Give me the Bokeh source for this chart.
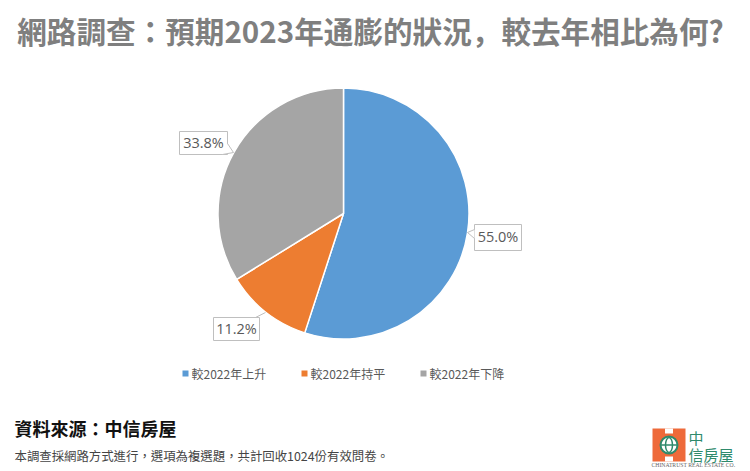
import math
from bokeh.plotting import figure
from bokeh.core.properties import value
from bokeh.embed import file_html
from bokeh.resources import INLINE

categories = ["較2022年上升", "較2022年持平", "較2022年下降"]
shares = [55.0, 11.2, 33.8]
colors = ["#5B9BD5", "#ED7D31", "#A5A5A5"]
label_texts = ["55.0%", "11.2%", "33.8%"]
title = "網路調查\uFF1A預期2023年通膨的狀況\uFF0C較去年相比為何?"
source = "資料來源\uFF1A中信房屋"
note = "本調查採網路方式進行\uFF0C選項為複選題\uFF0C共計回收1024份有效問卷。"

W, H = 750, 471
def Y(py):
    return H - py

p = figure(width=W, height=H, x_range=(0, W), y_range=(0, H),
           output_backend="svg", toolbar_location=None, min_border=0,
           x_axis_location=None, y_axis_location=None, outline_line_color=None)
p.grid.visible = False
p.background_fill_color = "white"

TC = value("Noto Sans CJK TC")
JP = value("Noto Sans CJK JP")
LAT = value("Open Sans")

def txt(x, y, s, size, color, font=TC, style="normal", align="left"):
    p.text([x], [Y(y)], text=[s], text_font=font, text_font_size=f"{size}px",
           text_color=color, text_font_style=style, text_align=align, text_baseline="middle")

txt(370, 30, title, 29.6, "#7F7F7F", JP, "bold", "center")

# pie
cx, cy, r = 343, 213, 125.5
total = sum(shares)
a = math.pi / 2
starts, ends = [], []
for v in shares:
    b = a - 2 * math.pi * v / total
    starts.append(b)
    ends.append(a)
    a = b
p.wedge(x=[cx] * 3, y=[Y(cy)] * 3, radius=r, start_angle=starts, end_angle=ends,
        fill_color=colors, line_color="white", line_width=1.5)

# callouts
boxes = [
    (474, 521, 224, 250, [(474, 229), (467, 232), (474, 238)]),
    (213, 259, 317, 340, None),
    (179, 227, 131, 154, [(227, 143), (233, 152), (222, 154)]),
]
for (x0, x1, y0, y1, ptr), s in zip(boxes, label_texts):
    p.quad(left=[x0], right=[x1], top=[Y(y0)], bottom=[Y(y1)], fill_color="white",
           line_color="#BFBFBF", line_width=1)
    if ptr:
        xs = [q[0] for q in ptr]
        ys = [Y(q[1]) for q in ptr]
        p.patch(xs, ys, fill_color="white", line_color=None)
        p.line(xs, ys, line_color="#BFBFBF", line_width=1)
    txt((x0 + x1) / 2, (y0 + y1) / 2 - 1, s, 14.5, "#595959", LAT, "normal", "center")
p.line([255, 265], [Y(317), Y(312)], line_color="#BFBFBF", line_width=1)

# legend
for c, col, sx in zip(categories, colors, [185, 304, 423]):
    p.quad(left=[sx - 3], right=[sx + 3], top=[Y(370)], bottom=[Y(376)], fill_color=col, line_color=None)
    txt(sx + 6, 373, c, 12, "#595959")

# footer
txt(14, 427, source, 18, "#111111", TC, "bold")
txt(14, 455, note, 12.4, "#444444")

# logo
org = "#EE6A3A"
grn = "#2F8A6C"
p.quad(left=[652], right=[685], top=[Y(428)], bottom=[Y(461)], fill_color=org, line_color=None)
p.quad(left=[664.5], right=[672.5], top=[Y(428)], bottom=[Y(433)], fill_color="white", line_color=None)
p.quad(left=[664.5], right=[672.5], top=[Y(456)], bottom=[Y(461)], fill_color="white", line_color=None)
p.ellipse(x=[668.5], y=[Y(444.5)], width=17, height=17, fill_color="white", line_color=grn, line_width=2)
p.ellipse(x=[668.5], y=[Y(444.5)], width=7, height=15, fill_color=None, line_color=grn, line_width=1.5)
p.line([660.5, 676.5], [Y(444.5), Y(444.5)], line_color=grn, line_width=1.5)
txt(688, 437, "中", 15, grn)
txt(688, 454, "信房屋", 15, grn)
txt(651, 464, "CHINATRUST REAL ESTATE CO.", 5.7, "#666666", value("Liberation Serif"))

open("out.html", "w").write(file_html(p, INLINE))
